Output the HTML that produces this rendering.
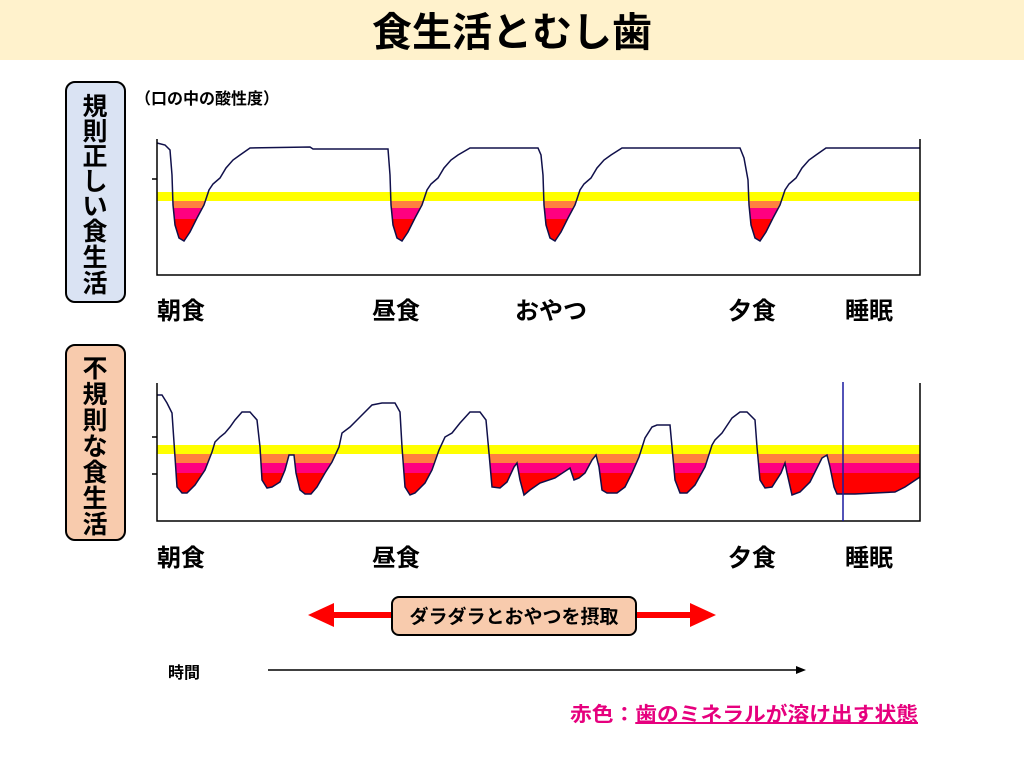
<!DOCTYPE html>
<html><head><meta charset="utf-8"><style>
body{margin:0;width:1024px;height:768px;background:#fff;overflow:hidden;font-family:"Liberation Sans","Noto Sans CJK JP",sans-serif}
</style></head><body>
<svg width="1024" height="768" viewBox="0 0 1024 768" xmlns="http://www.w3.org/2000/svg" style="font-family:'Liberation Sans','Noto Sans CJK JP',sans-serif">
<rect x="0" y="0" width="1024" height="60" fill="#fff2cc"/>
<text x="512" y="46" font-size="40" font-weight="bold" text-anchor="middle">食生活とむし歯</text>

<rect x="66" y="82" width="59" height="220" rx="9" fill="#dae3f3" stroke="#000" stroke-width="2"/>
<g font-size="25" font-weight="bold" text-anchor="middle">
<text x="95" y="115">規</text><text x="95" y="140">則</text><text x="95" y="165">正</text><text x="95" y="190">し</text><text x="95" y="215">い</text><text x="95" y="240">食</text><text x="95" y="266">生</text><text x="95" y="292">活</text>
</g>
<rect x="66" y="345" width="59" height="195" rx="9" fill="#f8cbad" stroke="#000" stroke-width="2"/>
<g font-size="25" font-weight="bold" text-anchor="middle">
<text x="95" y="377">不</text><text x="95" y="403">規</text><text x="95" y="429">則</text><text x="95" y="455">な</text><text x="95" y="481">食</text><text x="95" y="507">生</text><text x="95" y="533">活</text>
</g>

<text x="135" y="104" font-size="16" font-weight="bold">（口の中の酸性度）</text>

<defs>
<clipPath id="c1"><polygon points="157,143 165,145 170,150 172,175 173,205 175,225 179,238 184,241 190,232 197,218 204,205 209,190 213,184 220,178 226,168 233,160 240,155 250,148 310,147 313,149 388,149 390,175 391,205 393,225 397,238 402,241 408,232 415,218 422,205 427,190 431,184 438,178 444,168 451,160 458,155 470,148 538,148 541,155 543,175 544,205 546,225 550,238 555,241 561,232 568,218 575,205 580,190 584,184 591,178 597,168 604,160 611,155 622,148 740,148 744,158 748,180 749,205 751,225 755,238 760,241 766,232 773,218 780,205 785,190 789,184 796,178 802,168 809,160 816,155 826,148 920,148 920,130 157,130"/></clipPath>
<clipPath id="c2"><polygon points="157,395 162,395 167,403 172,413 175,457 177,487 182,493 187,493 195,485 205,470 212,452 215,442 220,437 225,433 230,427 235,420 242,412 250,412 257,420 260,447 262,480 267,488 272,487 280,482 285,470 289,455 294,455 296,473 300,490 305,494 311,494 317,487 325,473 332,462 339,447 342,433 350,427 360,417 372,405 382,403 395,403 400,412 402,447 405,487 410,495 415,493 425,483 432,470 439,450 445,437 452,433 460,423 470,412 480,412 486,420 489,453 492,487 500,488 507,482 514,467 517,463 520,480 524,495 530,490 540,483 555,478 570,468 574,480 579,478 585,473 592,460 596,455 599,467 602,490 607,493 617,493 625,487 632,473 639,457 645,438 652,427 657,425 670,425 672,447 675,480 680,493 687,493 695,485 705,467 712,445 715,440 722,433 732,418 740,412 747,412 755,420 757,447 760,480 765,488 772,487 781,473 785,463 787,473 792,495 800,492 810,482 822,458 827,455 830,467 834,487 837,494 855,494 895,492 905,487 920,477 920,380 157,380"/></clipPath>
</defs>

<rect x="157" y="192" width="763" height="9" fill="#ffff00"/>
<g clip-path="url(#c1)">
<rect x="157" y="201" width="763" height="7" fill="#ff8040"/>
<rect x="157" y="208" width="763" height="11" fill="#ff0080"/>
<rect x="157" y="219" width="763" height="56" fill="#ff0000"/>
</g>
<polyline fill="none" stroke="#10104a" stroke-width="1.5" points="157,143 165,145 170,150 172,175 173,205 175,225 179,238 184,241 190,232 197,218 204,205 209,190 213,184 220,178 226,168 233,160 240,155 250,148 310,147 313,149 388,149 390,175 391,205 393,225 397,238 402,241 408,232 415,218 422,205 427,190 431,184 438,178 444,168 451,160 458,155 470,148 538,148 541,155 543,175 544,205 546,225 550,238 555,241 561,232 568,218 575,205 580,190 584,184 591,178 597,168 604,160 611,155 622,148 740,148 744,158 748,180 749,205 751,225 755,238 760,241 766,232 773,218 780,205 785,190 789,184 796,178 802,168 809,160 816,155 826,148 920,148"/>
<path d="M157,139V275H920V139M157,179H152" fill="none" stroke="#000" stroke-width="1.5"/>
<g font-size="24" font-weight="bold"><text x="157" y="319">朝食</text><text x="372" y="319">昼食</text><text x="515" y="319">おやつ</text><text x="728" y="319">夕食</text><text x="845" y="319">睡眠</text></g>

<rect x="157" y="445" width="763" height="9" fill="#ffff00"/>
<g clip-path="url(#c2)">
<rect x="157" y="454" width="763" height="9" fill="#ff8040"/>
<rect x="157" y="463" width="763" height="10" fill="#ff0080"/>
<rect x="157" y="473" width="763" height="48" fill="#ff0000"/>
</g>
<polyline fill="none" stroke="#10104a" stroke-width="1.5" points="157,395 162,395 167,403 172,413 175,457 177,487 182,493 187,493 195,485 205,470 212,452 215,442 220,437 225,433 230,427 235,420 242,412 250,412 257,420 260,447 262,480 267,488 272,487 280,482 285,470 289,455 294,455 296,473 300,490 305,494 311,494 317,487 325,473 332,462 339,447 342,433 350,427 360,417 372,405 382,403 395,403 400,412 402,447 405,487 410,495 415,493 425,483 432,470 439,450 445,437 452,433 460,423 470,412 480,412 486,420 489,453 492,487 500,488 507,482 514,467 517,463 520,480 524,495 530,490 540,483 555,478 570,468 574,480 579,478 585,473 592,460 596,455 599,467 602,490 607,493 617,493 625,487 632,473 639,457 645,438 652,427 657,425 670,425 672,447 675,480 680,493 687,493 695,485 705,467 712,445 715,440 722,433 732,418 740,412 747,412 755,420 757,447 760,480 765,488 772,487 781,473 785,463 787,473 792,495 800,492 810,482 822,458 827,455 830,467 834,487 837,494 855,494 895,492 905,487 920,477"/>
<path d="M157,383V521H920V383M157,437H152M157,474H152" fill="none" stroke="#000" stroke-width="1.5"/>
<line x1="843" y1="382" x2="843" y2="521" stroke="#1a1aa0" stroke-width="1.5"/>
<g font-size="24" font-weight="bold"><text x="157" y="566">朝食</text><text x="372" y="566">昼食</text><text x="728" y="566">夕食</text><text x="845" y="566">睡眠</text></g>

<line x1="325" y1="615" x2="700" y2="615" stroke="#ff0000" stroke-width="6"/>
<polygon points="308,615 334,603 334,627" fill="#ff0000"/>
<polygon points="716,615 690,603 690,627" fill="#ff0000"/>
<rect x="392" y="597" width="244" height="38" rx="7" fill="#f8cbad" stroke="#000" stroke-width="2"/>
<text x="514" y="623" font-size="19" font-weight="bold" text-anchor="middle">ダラダラとおやつを摂取</text>

<text x="168" y="678" font-size="16" font-weight="bold">時間</text>
<line x1="268" y1="670" x2="798" y2="670" stroke="#000" stroke-width="1.5"/>
<polygon points="806,670 796,666 796,674" fill="#000"/>

<text x="570" y="721" font-size="20" font-weight="bold" fill="#e6007e" textLength="348" lengthAdjust="spacingAndGlyphs">赤色：<tspan text-decoration="underline">歯のミネラルが溶け出す状態</tspan></text>
</svg>
</body></html>
